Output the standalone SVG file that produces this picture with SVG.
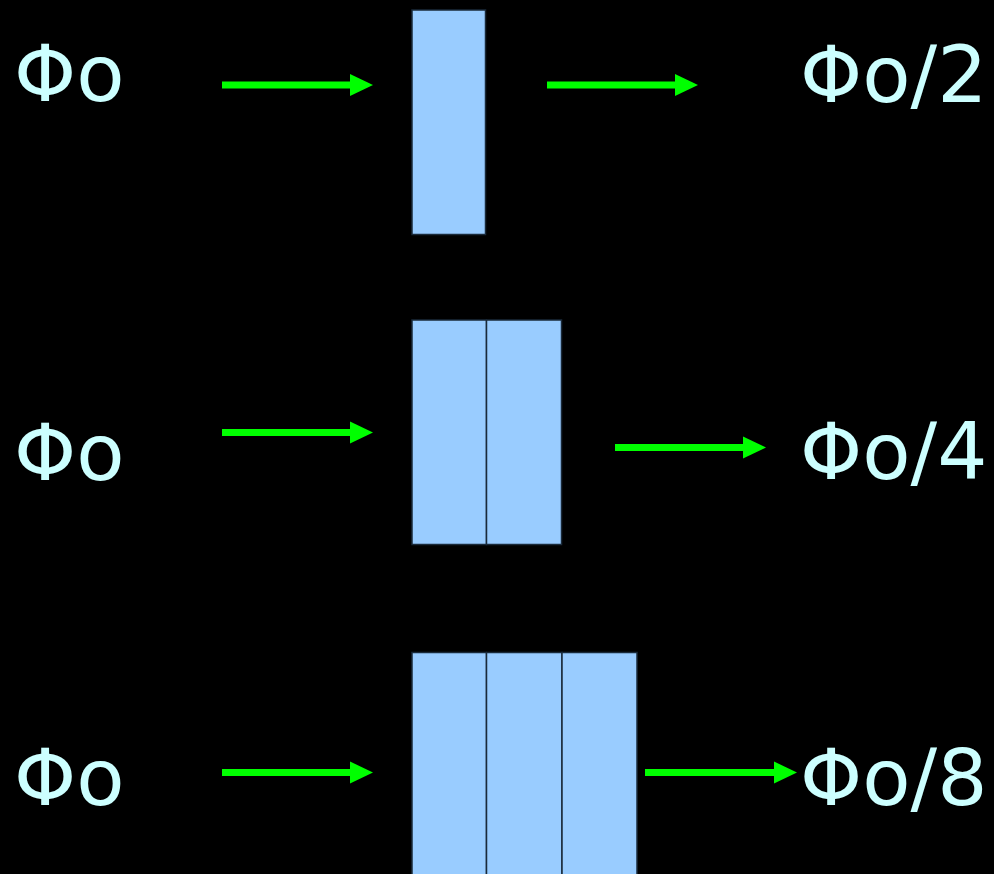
<svg xmlns="http://www.w3.org/2000/svg" width="994" height="874" viewBox="0 0 994 874">
<style>
.lbl{font-family:"DejaVu Sans","Liberation Sans",sans-serif;font-size:79px;fill:#CCFFFF}
.blk{fill:#99CCFF;stroke:#1a2a3a;stroke-width:1.5}
.arr{stroke:#00FF00;stroke-width:7;fill:none}
.head{fill:#00FF00}
</style>
<rect x="0" y="0" width="994" height="874" fill="#000"/>
<g id="row1-in"><text class="lbl" x="14" y="101">Φo</text></g>
<g id="row1-filter"><rect class="blk" x="412" y="10" width="73.5" height="224.5"/></g>
<g id="row1-out"><text class="lbl" x="800" y="102">Φo/2</text></g>
<g id="row2-in"><text class="lbl" x="14" y="480">Φo</text></g>
<g id="row2-filter"><rect class="blk" x="412" y="320" width="74.5" height="224.5"/><rect class="blk" x="486.5" y="320" width="75" height="224.5"/></g>
<g id="row2-out"><text class="lbl" x="800" y="479">Φo/4</text></g>
<g id="row3-in"><text class="lbl" x="14" y="805">Φo</text></g>
<g id="row3-filter"><rect class="blk" x="412" y="652.5" width="74.5" height="230"/><rect class="blk" x="486.5" y="652.5" width="75.5" height="230"/><rect class="blk" x="562" y="652.5" width="75" height="230"/></g>
<g id="row3-out"><text class="lbl" x="800" y="805">Φo/8</text></g>
<g id="connectors">
<line class="arr" x1="222" y1="85" x2="352" y2="85"/><polygon class="head" points="350,74 373,85 350,96"/>
<line class="arr" x1="547" y1="85" x2="677" y2="85"/><polygon class="head" points="675,74 698,85 675,96"/>
<line class="arr" x1="222" y1="432.5" x2="352" y2="432.5"/><polygon class="head" points="350,421.5 373,432.5 350,443.5"/>
<line class="arr" x1="615" y1="447.5" x2="745" y2="447.5"/><polygon class="head" points="743,436.5 766,447.5 743,458.5"/>
<line class="arr" x1="222" y1="772.5" x2="352" y2="772.5"/><polygon class="head" points="350,761.5 373,772.5 350,783.5"/>
<line class="arr" x1="645" y1="772.5" x2="776" y2="772.5"/><polygon class="head" points="774,761.5 797,772.5 774,783.5"/>
</g>
</svg>
